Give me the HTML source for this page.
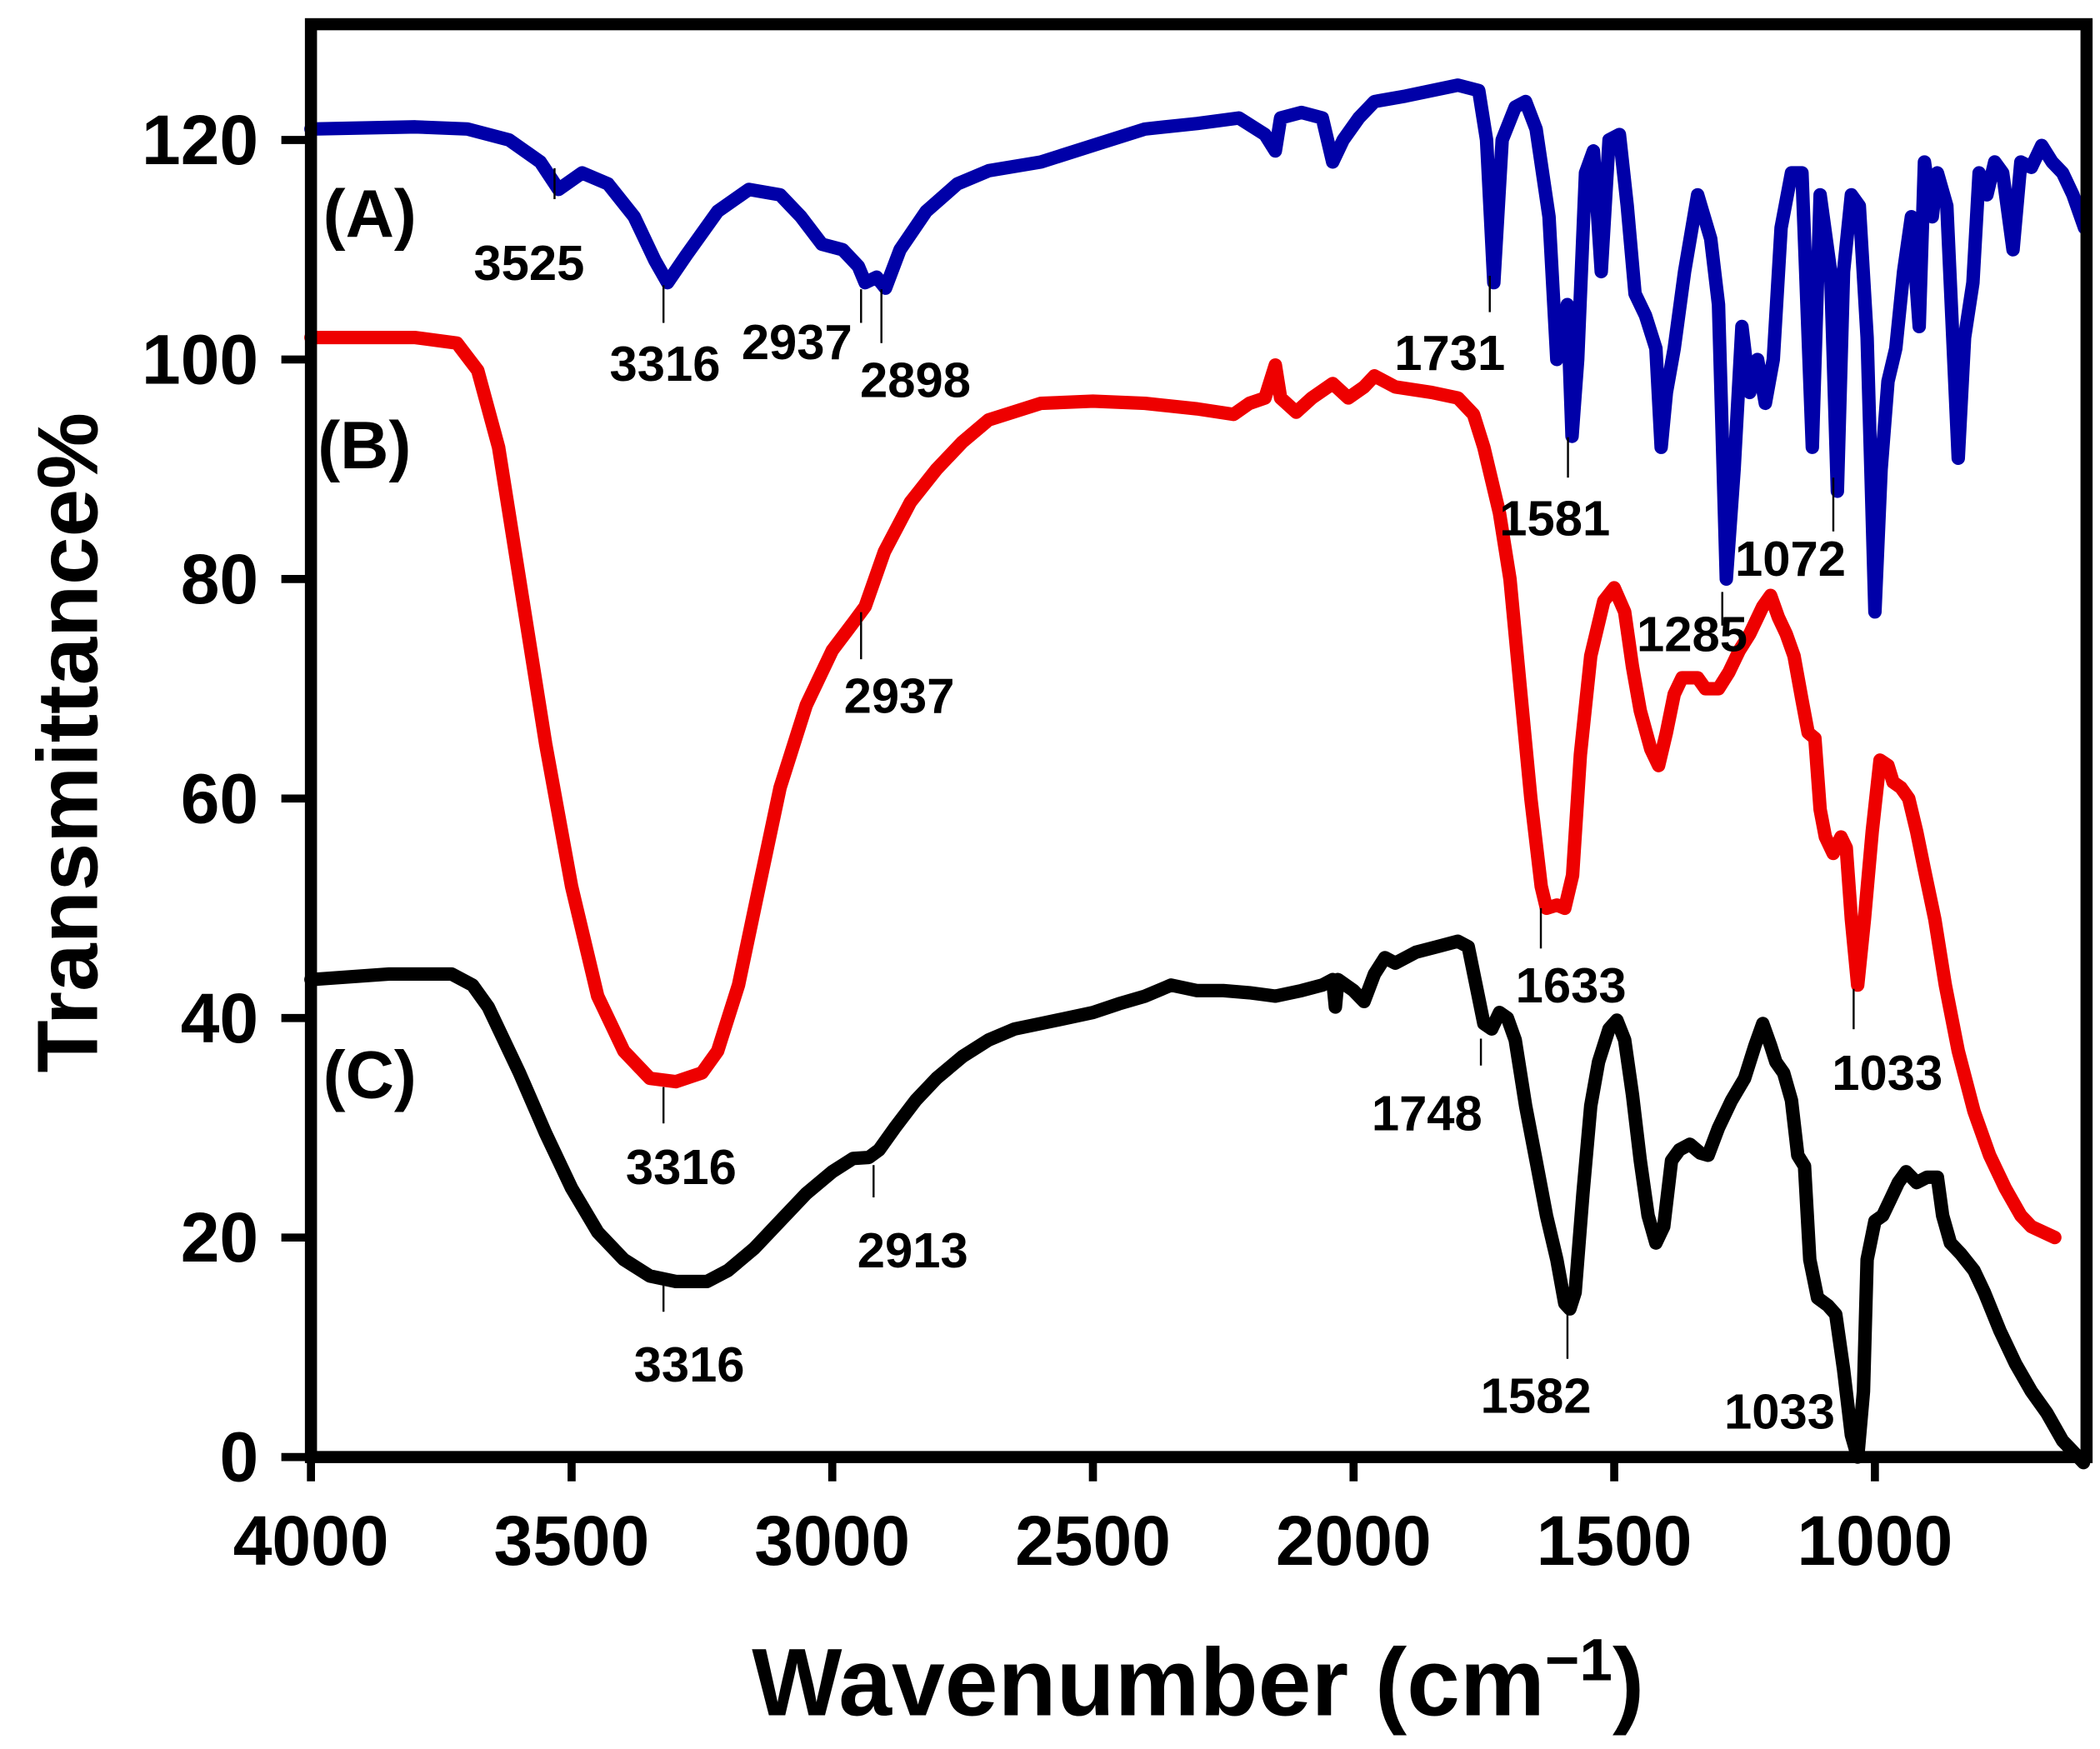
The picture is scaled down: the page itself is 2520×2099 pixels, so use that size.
<!DOCTYPE html>
<html><head><meta charset="utf-8"><style>
html,body{margin:0;padding:0;background:#fff;}
svg{display:block;}
text{font-family:"Liberation Sans",Arial,sans-serif;font-weight:bold;fill:#000;}
</style></head><body>
<svg id="chart" width="2520" height="2099" viewBox="0 0 1560 1300" preserveAspectRatio="none" xmlns="http://www.w3.org/2000/svg">
<rect x="0" y="0" width="1560" height="1300" fill="#fff"/>
<g id="series"></g>
<g id="labels"></g>
<rect x="231" y="18" width="1319" height="1065" fill="none" stroke="#000" stroke-width="9"/>
<g id="axes"></g>
<text transform="translate(72,552) rotate(-90)" text-anchor="middle" font-size="64">Transmittance%</text>
<text x="890" y="1275" text-anchor="middle" font-size="71">Wavenumber (cm<tspan dy="-26" font-size="44">−1</tspan><tspan dy="26">)</tspan></text>
<text x="240" y="176" font-size="50">(A)</text>
<text x="236" y="348" font-size="50">(B)</text>
<text x="240" y="816" font-size="50">(C)</text>
</svg>
<script>
const xTicks=[4000,3500,3000,2500,2000,1500,1000];
const yTicks=[0,20,40,60,80,100,120];
const seriesA_x=[4000,3800,3700,3620,3560,3525,3480,3430,3380,3340,3316,3280,3220,3160,3100,3060,3020,2980,2950,2937,2915,2898,2870,2820,2760,2700,2600,2500,2400,2300,2220,2170,2150,2140,2100,2060,2040,2020,1990,1960,1900,1800,1760,1745,1731,1715,1690,1670,1650,1625,1610,1600,1590,1581,1570,1555,1540,1525,1510,1490,1475,1460,1440,1420,1410,1400,1385,1365,1340,1315,1300,1285,1270,1255,1240,1225,1210,1195,1180,1160,1140,1120,1105,1085,1072,1060,1045,1030,1015,1000,988,975,960,945,930,915,905,890,880,862,840,828,812,800,785,770,755,735,720,700,680,660,640,620,598];
const seriesA_y=[121,121.2,121,120,118,115.5,117,116,113,109,107,109.5,113.5,115.5,115,113,110.5,110,108.5,107,107.5,106.5,110,113.5,116,117.2,118,119.5,121,121.5,122,120.5,119,122,122.5,122,118,120,122,123.5,124,125,124.5,120,107,120,123,123.5,121,113,100,101,105,93,100,117,119,108,120,120.5,114,106,104,101,92,97,101,108,115,111,105,80,90,103,97,100,96,100,112,117,117,92,115,108,88,108,115,114,102,77,90,98,101,108,113,103,118,113,117,114,91,102,107,117,115,118,117,110,118,117.5,119.5,118,117,115,112];
const seriesB_x=[4000,3800,3720,3680,3640,3600,3550,3500,3450,3400,3350,3300,3250,3220,3180,3140,3100,3050,3000,2960,2937,2900,2850,2800,2750,2700,2600,2500,2400,2300,2230,2200,2170,2150,2140,2110,2080,2040,2010,1980,1960,1920,1850,1800,1770,1750,1720,1700,1680,1660,1640,1630,1610,1595,1580,1565,1545,1520,1500,1480,1465,1450,1430,1415,1400,1385,1370,1340,1325,1300,1280,1260,1240,1215,1200,1185,1170,1155,1140,1128,1115,1105,1095,1080,1065,1055,1045,1033,1020,1005,990,975,965,950,935,920,905,885,865,840,810,780,750,720,700,655];
const seriesB_y=[102,102,101.5,99,92,80,65,52,42,37,34.5,34.2,35,37,43,52,61,68.5,73.5,76,77.5,82.5,87,90,92.5,94.5,96,96.2,96,95.5,95,96,96.5,99.5,96.5,95.2,96.5,97.8,96.5,97.5,98.5,97.5,97,96.5,95,92,86,80,70,60,52,50,50.3,50,53,64,73,78,79.2,77,72,68,64.5,63,66,69.5,71,71,70,70,71.5,73.5,75,77.5,78.5,76.5,75,73,69,66,65.5,59,56.5,55,56.5,55.5,49,43,49,57,63.5,63,61.5,61,60,57,53.5,49,43,37,31.5,27.5,24.5,22,21,20];
const seriesC_x=[4000,3850,3730,3690,3660,3600,3550,3500,3450,3400,3350,3300,3240,3200,3150,3100,3050,3000,2960,2930,2910,2880,2840,2800,2750,2700,2650,2600,2500,2450,2400,2350,2300,2250,2200,2150,2100,2060,2040,2035,2030,2000,1980,1960,1940,1920,1880,1840,1800,1780,1765,1750,1735,1720,1705,1690,1670,1650,1630,1610,1595,1585,1575,1560,1545,1530,1510,1495,1480,1465,1450,1435,1420,1405,1390,1375,1355,1335,1320,1300,1275,1250,1230,1215,1200,1190,1175,1160,1148,1135,1125,1110,1090,1075,1060,1045,1033,1022,1015,1000,985,970,955,940,920,900,880,870,855,835,810,790,760,730,700,670,640,600];
const seriesC_y=[43.5,44,44,43,41,35,29.5,24.5,20.5,18,16.5,16,16,17,19,21.5,24,26,27.2,27.3,28,30,32.5,34.5,36.5,38,39,39.5,40.5,41.3,42,43,42.5,42.5,42.3,42,42.5,43,43.5,41,43.5,42.5,41.5,44,45.5,45,46,46.5,47,46.5,43,39.5,39,40.5,40,38,32,27,22,18,14,13.5,15,24,32,36,39,39.8,38,33,27,22,19.5,21,27,28,28.5,27.7,27.5,30,32.5,34.5,37.5,39.5,37.5,36,35,32.5,27.5,26.5,18,14.5,13.8,13,8,2,0,6,18,21.5,22,23.5,25,26,25,25.5,25.5,22,19.5,18.5,17,15,11.5,8.5,6,4,1.5,-0.5];
const NS='http://www.w3.org/2000/svg';
const X0=231,X1=1550,Y0=1083;
const xMax=4000,xMin=594,ppY=8.158;
function sx(v){return X0+(xMax-v)*(X1-X0)/(xMax-xMin);}
function sy(v){return Y0-v*ppY;}
function mk(t,a){const e=document.createElementNS(NS,t);for(const k in a)e.setAttribute(k,a[k]);return e;}
const sg=document.getElementById('series');
function drawSeries(xs,ys,color,name){
  const pts=xs.map((x,i)=>sx(x).toFixed(1)+','+sy(ys[i]).toFixed(1)).join(' ');
  const p=mk('polyline',{points:pts,fill:'none',stroke:color,'stroke-width':10,'stroke-linejoin':'round','stroke-linecap':'round'});
  
  
  sg.appendChild(p);
}
drawSeries(seriesA_x,seriesA_y,'#0000a8','series-a-line');
drawSeries(seriesB_x,seriesB_y,'#ee0000','series-b-line');
drawSeries(seriesC_x,seriesC_y,'#000000','series-c-line');
const ax=document.getElementById('axes');
xTicks.forEach(v=>{
  const l=mk('line',{x1:sx(v),x2:sx(v),y1:Y0,y2:Y0+18,stroke:'#000','stroke-width':6});
  
  
  ax.appendChild(l);
  const t=mk('text',{x:sx(v),y:1163,'text-anchor':'middle','font-size':52});
  t.textContent=v;
  
  
  ax.appendChild(t);
});
yTicks.forEach(v=>{
  const l=mk('line',{x1:X0-22,x2:X0,y1:sy(v),y2:sy(v),stroke:'#000','stroke-width':6});
  
  
  ax.appendChild(l);
  const t=mk('text',{x:192,y:sy(v)+18,'text-anchor':'end','font-size':52});
  t.textContent=v;
  
  
  ax.appendChild(t);
});
const peakText=['3525','3316','2937','2898','1731','1581','1285','1072','2937','3316','1633','1033','2913','3316','1748','1582','1033'];
const peakWn=[3525,3316,2937,2898,1731,1581,1285,1072,2937,3316,1633,1033,2913,3316,1748,1582,1033];
const peakSeries=['a','a','a','a','a','a','a','a','b','b','b','b','c','c','c','c','c'];
const lg=document.getElementById('labels');
const layout=[[393,208,125,148],[494,283,212,240],[592,267,215,240],[680,295,215,255],[1077,275,205,232],[1155,398,325,355],[1257,484,440,465],[1330,428,355,395],[668,530,455,490],[506,880,808,835],[1167,745,675,705],[1402,810,735,765],[678,942,866,890],[512,1027,953,975],[1060,840,772,792],[1141,1050,975,1010],[1322,1062,0,0]];
peakText.forEach((s,i)=>{
  const L=layout[i];
  if(L[3]>0){
    const l=mk('line',{x1:sx(peakWn[i])-3,x2:sx(peakWn[i])-3,y1:L[2],y2:L[3],stroke:'#000','stroke-width':1.5});
    
    
    lg.appendChild(l);
  }
  const t=mk('text',{x:L[0],y:L[1],'text-anchor':'middle','font-size':37});
  t.textContent=s;
  
  
  lg.appendChild(t);
});
</script>
</body></html>
